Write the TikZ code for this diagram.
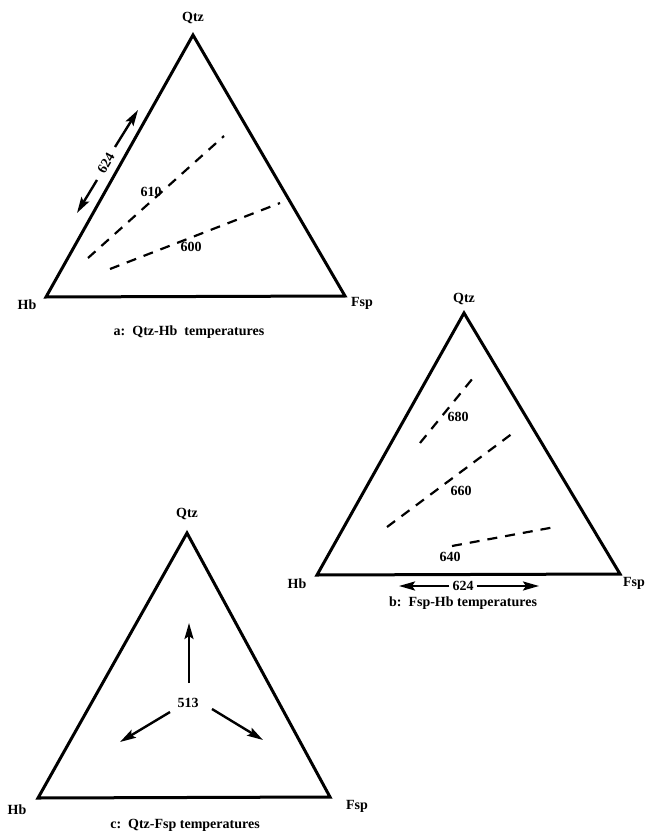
\documentclass[tikz,border=0pt]{standalone}
\usepackage{fontspec}
\setmainfont{Liberation Serif}
\usetikzlibrary{arrows.meta}
\begin{document}
\begin{tikzpicture}[x=1pt,y=-1pt,
  tri/.style={line width=3pt, line join=miter},
  iso/.style={line width=2.2pt, dash pattern=on 10pt off 8pt},
  lbl/.style={font=\bfseries\fontsize{14}{16}\selectfont, inner sep=0pt},
  arr/.style={line width=2.4pt, -{Stealth[length=16pt,width=9pt,inset=3pt]}}]
\useasboundingbox (0,0) rectangle (646,834);

% ---------- triangle a ----------
\coordinate (aQ) at (193,35);
\coordinate (aH) at (46,297);
\coordinate (aF) at (345,296);
\draw[tri] (aQ) -- (aH) -- (aF) -- cycle;
\node[lbl] (aQl) at (193,18) {Qtz};
\node[lbl] (aHl) at (27,305) {Hb};
\node[lbl] (aFl) at (362,303) {Fsp};
\node[lbl] (acap) at (189,332) {a:\ \ Qtz-Hb\ \ temperatures};

\coordinate (a610s) at (88,258);
\coordinate (a610e) at (224,136);
\draw[iso] (a610s) -- (a610e);
\coordinate (a600s) at (110,269);
\coordinate (a600e) at (280,203);
\draw[iso] (a600s) -- (a600e);
\node[lbl] (a610) at (151,192) {610};
\node[lbl] (a600) at (191,247) {600};

\node[lbl, rotate=60] (a624) at (106,163) {624};
\coordinate (a624ls) at (97,180);
\coordinate (a624us) at (115,147);
\coordinate (a624lt) at (77,213);
\coordinate (a624ut) at (138,110);
\draw[arr] (a624ls) -- (a624lt);
\draw[arr] (a624us) -- (a624ut);

% ---------- triangle b ----------
\coordinate (bQ) at (464,313);
\coordinate (bH) at (317,575);
\coordinate (bF) at (620,574);
\draw[tri] (bQ) -- (bH) -- (bF) -- cycle;
\node[lbl] (bQl) at (464,299) {Qtz};
\node[lbl] (bHl) at (297,584) {Hb};
\node[lbl] (bFl) at (634,583) {Fsp};
\node[lbl] (bcap) at (463,603) {b:\ \ Fsp-Hb temperatures};

\coordinate (b680s) at (420,443);
\coordinate (b680e) at (473,378);
\draw[iso] (b680s) -- (b680e);
\coordinate (b660s) at (387,527);
\coordinate (b660e) at (513,433);
\draw[iso] (b660s) -- (b660e);
\coordinate (b640s) at (452,546);
\coordinate (b640e) at (555,527);
\draw[iso] (b640s) -- (b640e);
\node[lbl] (b680) at (458,417) {680};
\node[lbl] (b660) at (461,491) {660};
\node[lbl] (b640) at (450,557) {640};

\node[lbl] (b624) at (463,586) {624};
\coordinate (b624lt) at (399,586);
\coordinate (b624rt) at (539,586);
\draw[arr] (b624.west) ++(-3,0) -- (b624lt);
\draw[arr] (b624.east) ++(3,0) -- (b624rt);

% ---------- triangle c ----------
\coordinate (cQ) at (187,533);
\coordinate (cH) at (38,798);
\coordinate (cF) at (330,797);
\draw[tri] (cQ) -- (cH) -- (cF) -- cycle;
\node[lbl] (cQl) at (187,514) {Qtz};
\node[lbl] (cHl) at (17,810) {Hb};
\node[lbl] (cFl) at (357,806) {Fsp};
\node[lbl] (ccap) at (185,825) {c:\ \ Qtz-Fsp temperatures};

\node[lbl] (c513) at (188,703) {513};
\coordinate (cup) at (189,623);
\coordinate (cleft) at (120,742);
\coordinate (cright) at (263,740);
\draw[arr] (189,683) -- (cup);
\draw[arr] (170,712) -- (cleft);
\draw[arr] (212,709) -- (cright);
\end{tikzpicture}
\end{document}
